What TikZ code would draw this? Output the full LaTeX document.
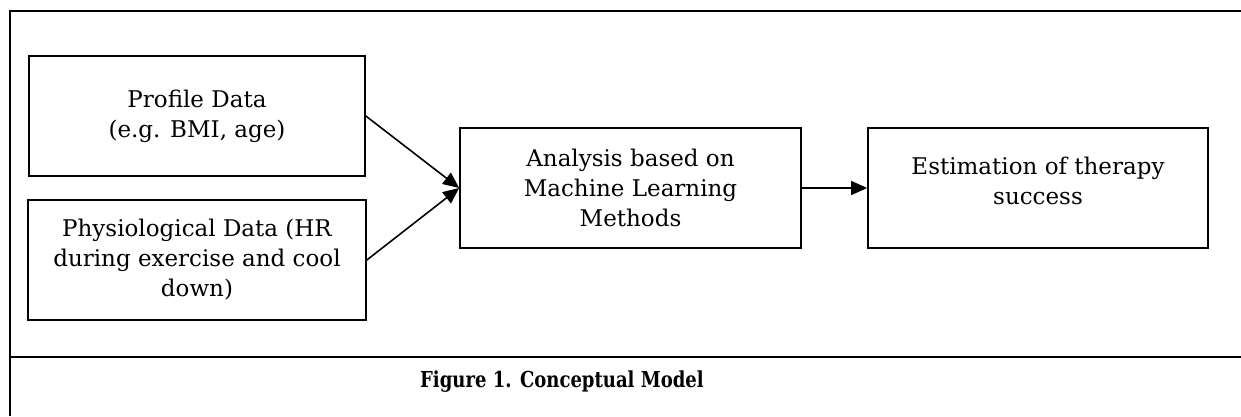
\documentclass[tikz,border=0pt]{standalone}
\usepackage{fontspec}
\setmainfont{DejaVu Serif}
\usetikzlibrary{arrows.meta}
\begin{document}
\begin{tikzpicture}[x=1pt,y=-1pt,
  txt/.style={align=center, inner sep=0pt, font=\fontsize{23}{30}\selectfont},
  box/.style={txt, draw, line width=1.7pt, minimum height=120pt},
  conn/.style={line width=1.6pt, -{Triangle[length=16pt,width=14pt]}},
  frame/.style={line width=2.2pt}]
\useasboundingbox (0,0) rectangle (1241,416);
\draw[frame] (10,416) -- (10,11) -- (1241,11);
\draw[frame] (10,357) -- (1241,357);
\node[box, minimum width=336pt] (prof) at (197,116) {Profile Data\\(e.g. BMI, age)};
\node[box, minimum width=338pt] (phys) at (197,260) {Physiological Data (HR\\during exercise and cool\\down)};
\node[box, minimum width=341pt] (anal) at (630.5,188) {Analysis based on\\Machine Learning\\Methods};
\node[box, minimum width=340pt] (est) at (1038,188) {};
\node[txt] (esttxt) at (1038,181) {Estimation of therapy\\success};
\draw[conn] (prof.east) -- (anal.west);
\draw[conn] (phys.east) -- (anal.west);
\draw[conn] (anal.east) -- (est.west);
\node[font=\fontsize{22}{26}\selectfont\bfseries] (cap) at (562,382) {\scalebox{0.82}[1]{Figure 1. Conceptual Model}};
\end{tikzpicture}
\end{document}
